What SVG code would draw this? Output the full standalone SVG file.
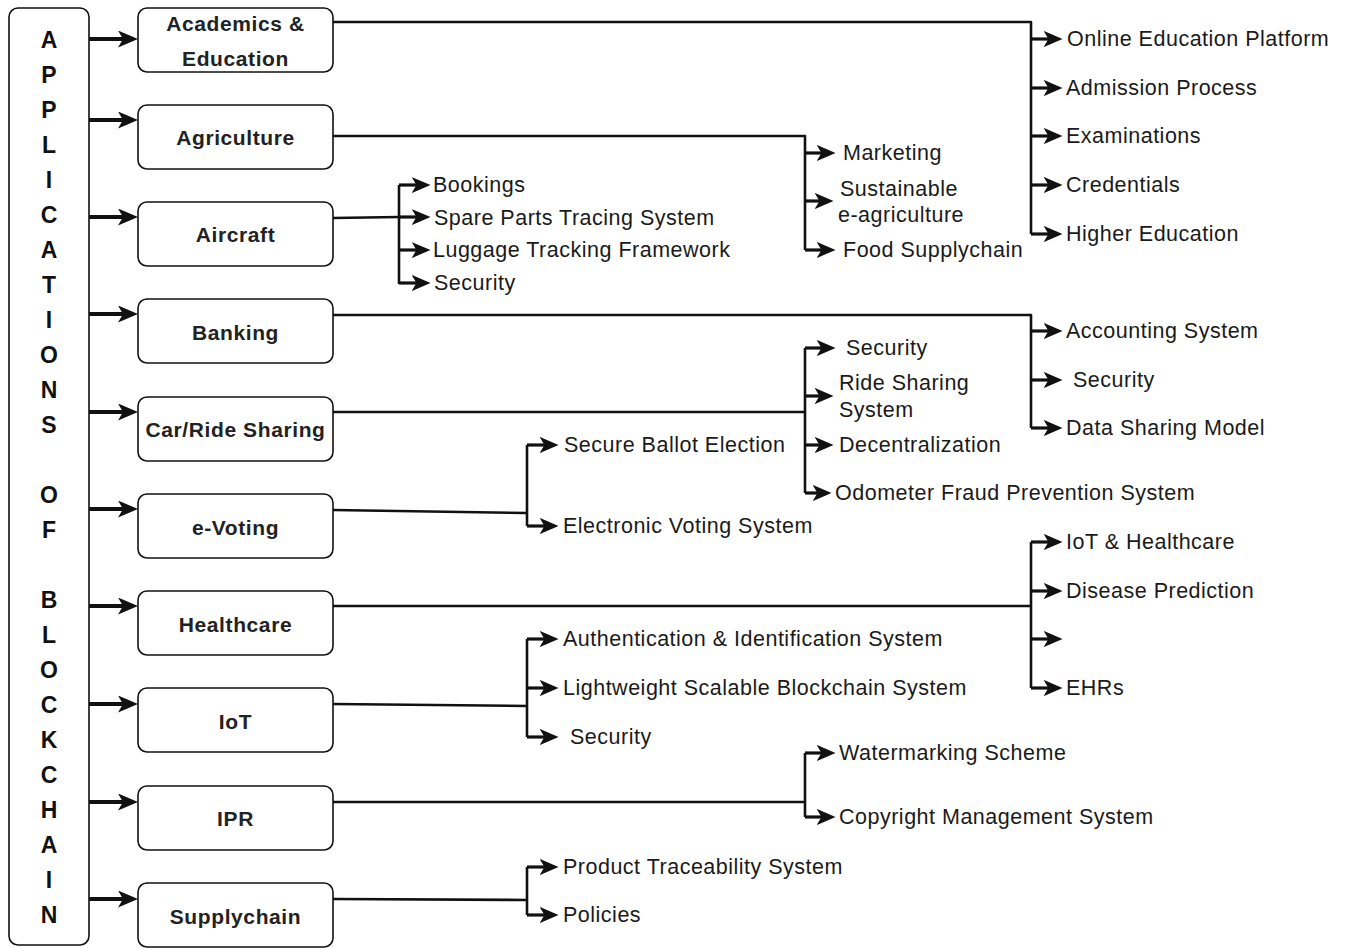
<svg xmlns="http://www.w3.org/2000/svg" width="1347" height="948" viewBox="0 0 1347 948">
<style>
.box{fill:#fff;stroke:#111;stroke-width:1.6}
.lbl{font-family:"Liberation Sans",Arial,sans-serif;font-weight:bold;font-size:21px;fill:#222;text-anchor:middle;letter-spacing:0.6px}
.big{font-family:"Liberation Sans",Arial,sans-serif;font-weight:bold;font-size:23px;fill:#111;text-anchor:middle}
.t{font-family:"Liberation Sans",Arial,sans-serif;font-size:21.5px;fill:#1a1a1a;letter-spacing:0.5px}
.ln{fill:none;stroke:#111;stroke-width:2.6;stroke-linejoin:round}
.ar{fill:none;stroke:#111;stroke-width:3.2;marker-end:url(#ah)}
.am{fill:none;stroke:#111;stroke-width:4.2;marker-end:url(#ahm)}
</style>
<defs>
<marker id="ah" viewBox="0 0 20 17" refX="12" refY="8.5" markerWidth="19" markerHeight="16" markerUnits="userSpaceOnUse" orient="auto">
<path d="M0,0 L20,8.5 L0,17 L5,8.5 z" fill="#111"/>
</marker>
<marker id="ahm" viewBox="0 0 20 17" refX="12" refY="8.5" markerWidth="20" markerHeight="17" markerUnits="userSpaceOnUse" orient="auto">
<path d="M0,0 L20,8.5 L0,17 L5,8.5 z" fill="#111"/>
</marker>
</defs>
<rect width="1347" height="948" fill="#fff"/>

<g id="root">
<rect class="box" x="9" y="8" width="80" height="937" rx="9"/>
<text class="big">
<tspan x="49" y="48">A</tspan><tspan x="49" y="83">P</tspan><tspan x="49" y="118">P</tspan><tspan x="49" y="153">L</tspan><tspan x="49" y="188">I</tspan><tspan x="49" y="223">C</tspan><tspan x="49" y="258">A</tspan><tspan x="49" y="293">T</tspan><tspan x="49" y="328">I</tspan><tspan x="49" y="363">O</tspan><tspan x="49" y="398">N</tspan><tspan x="49" y="433">S</tspan><tspan x="49" y="503">O</tspan><tspan x="49" y="538">F</tspan><tspan x="49" y="608">B</tspan><tspan x="49" y="643">L</tspan><tspan x="49" y="678">O</tspan><tspan x="49" y="713">C</tspan><tspan x="49" y="748">K</tspan><tspan x="49" y="783">C</tspan><tspan x="49" y="818">H</tspan><tspan x="49" y="853">A</tspan><tspan x="49" y="888">I</tspan><tspan x="49" y="923">N</tspan>
</text>
</g>

<g id="n-academics"><rect class="box" x="138" y="8" width="195" height="64" rx="9"/><text class="lbl" x="235.5" y="31">Academics &amp;</text><text class="lbl" x="235.5" y="66">Education</text></g>
<g id="n-agriculture"><rect class="box" x="138" y="105" width="195" height="64" rx="9"/><text class="lbl" x="235.5" y="145">Agriculture</text></g>
<g id="n-aircraft"><rect class="box" x="138" y="202" width="195" height="64" rx="9"/><text class="lbl" x="235.5" y="242">Aircraft</text></g>
<g id="n-banking"><rect class="box" x="138" y="299" width="195" height="64" rx="9"/><text class="lbl" x="235.5" y="340">Banking</text></g>
<g id="n-car"><rect class="box" x="138" y="397" width="195" height="64" rx="9"/><text class="lbl" x="235.5" y="437">Car/Ride Sharing</text></g>
<g id="n-evoting"><rect class="box" x="138" y="494" width="195" height="64" rx="9"/><text class="lbl" x="235.5" y="535">e-Voting</text></g>
<g id="n-healthcare"><rect class="box" x="138" y="591" width="195" height="64" rx="9"/><text class="lbl" x="235.5" y="632">Healthcare</text></g>
<g id="n-iot"><rect class="box" x="138" y="688" width="195" height="64" rx="9"/><text class="lbl" x="235.5" y="729">IoT</text></g>
<g id="n-ipr"><rect class="box" x="138" y="786" width="195" height="64" rx="9"/><text class="lbl" x="235.5" y="826">IPR</text></g>
<g id="n-supply"><rect class="box" x="138" y="883" width="195" height="64" rx="9"/><text class="lbl" x="235.5" y="924">Supplychain</text></g>

<g id="connectors">
<line class="am" x1="89" y1="39" x2="130" y2="39"/>
<line class="am" x1="89" y1="120" x2="130" y2="120"/>
<line class="am" x1="89" y1="217" x2="130" y2="217"/>
<line class="am" x1="89" y1="314" x2="130" y2="314"/>
<line class="am" x1="89" y1="412" x2="130" y2="412"/>
<line class="am" x1="89" y1="509" x2="130" y2="509"/>
<line class="am" x1="89" y1="606" x2="130" y2="606"/>
<line class="am" x1="89" y1="704" x2="130" y2="704"/>
<line class="am" x1="89" y1="802" x2="130" y2="802"/>
<line class="am" x1="89" y1="899" x2="130" y2="899"/>

<!-- Academics -->
<path class="ln" d="M333,22 H1031 V234"/>
<line class="ar" x1="1031" y1="39" x2="1055" y2="39"/>
<line class="ar" x1="1031" y1="88" x2="1055" y2="88"/>
<line class="ar" x1="1031" y1="136" x2="1055" y2="136"/>
<line class="ar" x1="1031" y1="185" x2="1055" y2="185"/>
<line class="ar" x1="1031" y1="234" x2="1055" y2="234"/>
<!-- Agriculture -->
<path class="ln" d="M333,136 H805 V250"/>
<line class="ar" x1="805" y1="153" x2="828" y2="153"/>
<line class="ar" x1="805" y1="201" x2="826" y2="201"/>
<line class="ar" x1="805" y1="250" x2="828" y2="250"/>
<!-- Aircraft -->
<path class="ln" d="M333,218 L399,217"/>
<path class="ln" d="M399,185 V284"/>
<line class="ar" x1="399" y1="185" x2="423" y2="185"/>
<line class="ar" x1="399" y1="217" x2="423" y2="217"/>
<line class="ar" x1="399" y1="250" x2="423" y2="250"/>
<line class="ar" x1="399" y1="283" x2="423" y2="283"/>
<!-- Banking -->
<path class="ln" d="M333,315 H1031 V428"/>
<line class="ar" x1="1031" y1="331" x2="1055" y2="331"/>
<line class="ar" x1="1031" y1="380" x2="1055" y2="380"/>
<line class="ar" x1="1031" y1="428" x2="1055" y2="428"/>
<!-- Car/Ride Sharing -->
<path class="ln" d="M333,412 H805"/>
<path class="ln" d="M805,348 V493"/>
<line class="ar" x1="805" y1="348" x2="828" y2="348"/>
<line class="ar" x1="805" y1="396" x2="826" y2="396"/>
<line class="ar" x1="805" y1="445" x2="826" y2="445"/>
<line class="ar" x1="805" y1="493" x2="824" y2="493"/>
<!-- e-Voting -->
<path class="ln" d="M333,510 L527,513"/>
<path class="ln" d="M527,445 V526"/>
<line class="ar" x1="527" y1="445" x2="551" y2="445"/>
<line class="ar" x1="527" y1="526" x2="551" y2="526"/>
<!-- Healthcare -->
<path class="ln" d="M333,606 H1031"/>
<path class="ln" d="M1031,542 V688"/>
<line class="ar" x1="1031" y1="542" x2="1055" y2="542"/>
<line class="ar" x1="1031" y1="591" x2="1055" y2="591"/>
<line class="ar" x1="1031" y1="639" x2="1055" y2="639"/>
<line class="ar" x1="1031" y1="688" x2="1055" y2="688"/>
<!-- IoT -->
<path class="ln" d="M333,704 L527,706"/>
<path class="ln" d="M527,639 V737"/>
<line class="ar" x1="527" y1="639" x2="551" y2="639"/>
<line class="ar" x1="527" y1="688" x2="551" y2="688"/>
<line class="ar" x1="527" y1="737" x2="551" y2="737"/>
<!-- IPR -->
<path class="ln" d="M333,802 H805"/>
<path class="ln" d="M805,753 V817"/>
<line class="ar" x1="805" y1="753" x2="828" y2="753"/>
<line class="ar" x1="805" y1="817" x2="828" y2="817"/>
<!-- Supplychain -->
<path class="ln" d="M333,899 L527,900"/>
<path class="ln" d="M527,867 V915"/>
<line class="ar" x1="527" y1="867" x2="551" y2="867"/>
<line class="ar" x1="527" y1="915" x2="551" y2="915"/>
</g>

<g id="leaves">
<text class="t" x="1067" y="46">Online Education Platform</text>
<text class="t" x="1066" y="95">Admission Process</text>
<text class="t" x="1066" y="143">Examinations</text>
<text class="t" x="1066" y="192">Credentials</text>
<text class="t" x="1066" y="241">Higher Education</text>

<text class="t" x="843" y="160">Marketing</text>
<text class="t" x="840" y="196">Sustainable</text>
<text class="t" x="838" y="222">e-agriculture</text>
<text class="t" x="843" y="257">Food Supplychain</text>

<text class="t" x="433" y="192">Bookings</text>
<text class="t" x="434" y="225">Spare Parts Tracing System</text>
<text class="t" x="433" y="257">Luggage Tracking Framework</text>
<text class="t" x="434" y="290">Security</text>

<text class="t" x="1066" y="338">Accounting System</text>
<text class="t" x="1073" y="387">Security</text>
<text class="t" x="1066" y="435">Data Sharing Model</text>

<text class="t" x="846" y="355">Security</text>
<text class="t" x="839" y="390">Ride Sharing</text>
<text class="t" x="839" y="417">System</text>
<text class="t" x="839" y="452">Decentralization</text>
<text class="t" x="835" y="500">Odometer Fraud Prevention System</text>

<text class="t" x="564" y="452">Secure Ballot Election</text>
<text class="t" x="563" y="533">Electronic Voting System</text>

<text class="t" x="1066" y="549">IoT &amp; Healthcare</text>
<text class="t" x="1066" y="598">Disease Prediction</text>
<text class="t" x="1066" y="695">EHRs</text>

<text class="t" x="563" y="646">Authentication &amp; Identification System</text>
<text class="t" x="563" y="695">Lightweight Scalable Blockchain System</text>
<text class="t" x="570" y="744">Security</text>

<text class="t" x="839" y="760">Watermarking Scheme</text>
<text class="t" x="839" y="824">Copyright Management System</text>

<text class="t" x="563" y="874">Product Traceability System</text>
<text class="t" x="563" y="922">Policies</text>
</g>
</svg>
